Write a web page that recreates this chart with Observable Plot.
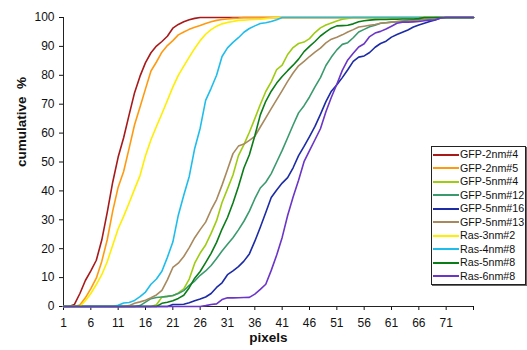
<!DOCTYPE html>
<html>
<head>
<meta charset="utf-8">
<script src="https://cdn.jsdelivr.net/npm/d3@7"></script>
<script src="https://cdn.jsdelivr.net/npm/@observablehq/plot@0.6"></script>
<style>
  html, body { margin: 0; padding: 0; background: #fff; }
  #wrap { position: relative; width: 527px; height: 350px; font-family: "Liberation Sans", Arial, sans-serif; }
  #legend { position: absolute; left: 431px; top: 146px; width: 93px; height: 136px; border: 1px solid #222;
            box-shadow: 1px 1px 0 #666; background: #fff; padding-top: 1px; box-sizing: content-box; }
  .row { display: flex; align-items: center; height: 13.5px; }
  .sw { width: 26px; height: 2px; margin-left: 1.3px; margin-right: 0.7px; }
  .lb { font-size: 10.7px; color: #111; line-height: 13.5px; white-space: nowrap; }
</style>
</head>
<body>
<div id="wrap">
  <div id="chart"></div>
  <div id="legend"></div>
</div>
<script>
// Category axis: pixel sizes 1..76
const pixels = d3.range(1, 77);
const xTicks = [1, 6, 11, 16, 21, 26, 31, 36, 41, 46, 51, 56, 61, 66, 71, 76];
const xTickLabels = [1, 6, 11, 16, 21, 26, 31, 36, 41, 46, 51, 56, 61, 66, 71];
const yTicks = [0, 10, 20, 30, 40, 50, 60, 70, 80, 90, 100];

const names = ["GFP-2nm#4", "GFP-2nm#5", "GFP-5nm#4", "GFP-5nm#12", "GFP-5nm#16",
               "GFP-5nm#13", "Ras-3nm#2", "Ras-4nm#8", "Ras-5nm#8", "Ras-6nm#8"];
const colors = ["#a8191a", "#ff9a10", "#9fcc10", "#3a9a6e", "#1c2ba6",
                "#a8895e", "#ffee00", "#1fbdec", "#0b7d18", "#6a35c8"];

const gfp2nm4 = [0,0,0.7,4.5,9,12.3,16,23,32.6,43,51.7,58.4,66.3,74,79.7,84.4,87.8,90.1,91.7,93.5,96.3,97.6,98.5,99.2,99.7,
  100,100,100,100,100,100,100,100,100,100,100,100,100,100,100,100,100,100,100,100,100,100,100,100,100,
  100,100,100,100,100,100,100,100,100,100,100,100,100,100,100,100,100,100,100,100,100,100,100,100,100,100];
const gfp2nm5 = [0,0,0,0.5,3,6.2,9.8,15.6,23.1,33,41.3,46.7,54.7,62.9,69,75.3,81.5,84.6,88,90.3,92,94,95,95.9,96.6,
  97.2,97.9,98.5,99,99.3,99.5,99.7,99.8,100,100,100,100,100,100,100,100,100,100,100,100,100,100,100,100,100,
  100,100,100,100,100,100,100,100,100,100,100,100,100,100,100,100,100,100,100,100,100,100,100,100,100,100];
const gfp5nm4 = [0,0,0,0,0,0,0,0,0,0,0,0,0,0,0,0,0,0.6,3.25,3.5,3.75,4.7,6.1,9.5,15,
  18.5,21.3,25.3,29.7,36,40.7,45.5,52.2,56,60.3,65,69.9,74.4,77.7,82,83.5,87.2,89.6,91,91.5,92.7,94.8,96.4,97.4,98.1,
  98.8,99.4,99.7,100,100,100,100,100,100,100,100,100,100,100,100,100,100,100,100,100,100,100,100,100,100,100];
const gfp5nm12 = [0,0,0,0,0,0,0,0,0,0,0,0,0,0,0.3,1.5,2.7,3.1,3.3,3.5,3.8,4.5,5.5,7.3,8.8,
  10.8,12.3,14.2,16.6,19.2,21.5,23.8,26.5,29.5,33,37.3,41,43,46,50,54,58.4,62.8,67,69.5,72.5,76,79.2,83.4,86.3,
  88.8,90.7,91.3,93,95,95.9,96.8,97.3,98,98.2,98.4,98.5,98.8,99,99.2,99.3,99.5,99.7,100,100,100,100,100,100,100,100];
const gfp5nm16 = [0,0,0,0,0,0,0,0,0,0,0,0,0,0,0,0,0,0,0,0,0.7,0.7,0.8,1.3,2,
  2.6,3.3,4.5,6.6,8.2,11,12.3,13.8,15.7,18.2,22.6,27.4,32.5,37.7,40.3,42.7,44.6,48,52.2,55.4,58.8,62.3,66.5,70.9,74.5,
  76.7,79.2,81.9,84.8,86.3,86.7,87.9,89.7,91,91.8,93.2,94.1,94.9,95.7,96.7,97.4,98,98.6,99.1,99.8,100,100,100,100,100,100];
const gfp5nm13 = [0,0,0,0,0,0,0,0,0,0,0,0,0.3,1.1,1.6,2.2,3,4,5.6,9.2,13.5,15,17.3,20.4,23.8,
  26.6,29.2,33.4,37,42,47.4,52.9,55.5,56.2,57.5,58.9,62.1,65.3,68.5,71.6,74.7,77.9,80.8,83.3,84.8,86.5,88,89.4,91.2,92.5,
  93.2,94,95,95.8,96.7,97,97.3,97.6,98,98.2,98.4,98.6,98.7,98.8,99,99.1,99.3,99.5,99.7,100,100,100,100,100,100,100];
const ras3nm2 = [0,0,0,0,2,4.5,7.6,11,15.5,21.2,26.9,31.2,35.8,40.6,45.3,52.2,57.7,62.3,66.7,71.3,75.9,80,83.2,86.3,89.3,
  92,94.2,95.8,97,97.8,98.3,98.6,99,99.1,99.2,99.3,99.4,99.6,99.8,100,100,100,100,100,100,100,100,100,100,100,
  100,100,100,100,100,100,100,100,100,100,100,100,100,100,100,100,100,100,100,100,100,100,100,100,100,100];
const ras4nm8 = [0,0,0,0,0,0,0,0,0,0,0.4,1.2,1.4,2.1,3.4,5,7.7,9.5,12.2,17,22.3,31.6,38.5,45,54.7,
  61.7,71.3,75.5,80,86.5,89.5,91.4,93,94.9,96.2,97.1,97.9,98.2,98.6,99.2,100,100,100,100,100,100,100,100,100,100,
  100,100,100,100,100,100,100,100,100,100,100,100,100,100,100,100,100,100,100,100,100,100,100,100,100,100];
const ras5nm8 = [0,0,0,0,0,0,0,0,0,0,0,0,0,0,0,0,0,0,1.1,1.5,2,2.8,3.9,6.5,9.8,
  12.1,15.2,18.4,22.2,26.8,30.8,35.8,41.5,47.9,52.5,59.1,66.3,71,74.5,77.3,79.6,81.6,83.5,85.6,88.2,90,91.7,93.6,95,96.3,
  97.1,97.2,97.3,97.8,98.5,98.9,99.1,99.25,99.3,99.3,99.4,99.4,99.5,99.5,99.5,99.6,100,100,100,100,100,100,100,100,100,100];
const ras6nm8 = [0,0,0,0,0,0,0,0,0,0,0,0,0,0,0,0,0,0,0,0,0,0,0,0,0,
  0,0.3,0.7,0.9,2.4,3,3,3.05,3.1,3.15,4.3,5.9,7.7,12.5,17.8,23.9,31.5,37.9,43.7,50.1,53.9,57.7,61.5,67.4,72.4,
  76.9,81.7,85.3,87.6,89.8,90.9,93.4,94.6,95.2,96,97,98,98.4,98.4,98.5,98.6,98.9,99.1,99.2,99.8,100,100,100,100,100,100];

const series = [gfp2nm4, gfp2nm5, gfp5nm4, gfp5nm12, gfp5nm16, gfp5nm13, ras3nm2, ras4nm8, ras5nm8, ras6nm8];

const data = [];
names.forEach((name, i) => {
  series[i].forEach((v, j) => data.push({name, x: pixels[j], y: v}));
});

const chart = Plot.plot({
  width: 527,
  height: 350,
  marginLeft: 63,
  marginRight: 54,
  marginTop: 17,
  marginBottom: 44,
  style: {fontFamily: "'Liberation Sans', Arial, sans-serif", fontSize: "12px", color: "#111", background: "#fff"},
  x: {domain: [1, 76]},
  y: {domain: [0, 100]},
  color: {domain: names, range: colors},
  marks: [
    Plot.axisY({ticks: yTicks, tickSize: 4, tickPadding: 5, label: null, fontSize: 12}),
    Plot.axisX({ticks: xTicks, tickSize: 4, tickPadding: 8, label: null, fontSize: 12,
                tickFormat: d => xTickLabels.includes(d) ? String(d) : ""}),
    Plot.ruleX([1], {stroke: "#222"}),
    Plot.ruleY([0], {stroke: "#222"}),
    Plot.line(data, {x: "x", y: "y", z: "name", stroke: "name", strokeWidth: 1.6}),
    Plot.text(["cumulative\u00a0 %"], {text: d => d, frameAnchor: "left", dx: -42, dy: 5, rotate: -90,
               fontWeight: "bold", fontSize: 13.5, fill: "#111"}),
    Plot.text(["pixels"], {text: d => d, frameAnchor: "bottom", dy: 35, fontWeight: "bold", fontSize: 13.5, fill: "#111"})
  ]
});
document.getElementById("chart").append(chart);

const legend = document.getElementById("legend");
names.forEach((name, i) => {
  const row = document.createElement("div");
  row.className = "row";
  const sw = document.createElement("div");
  sw.className = "sw";
  sw.style.background = colors[i];
  const lb = document.createElement("span");
  lb.className = "lb";
  lb.textContent = name;
  row.append(sw, lb);
  legend.append(row);
});
</script>
</body>
</html>
